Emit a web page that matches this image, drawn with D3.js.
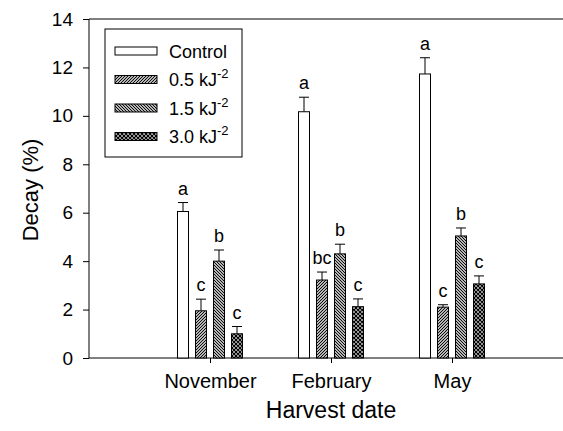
<!DOCTYPE html>
<html>
  <head>
    <meta charset="utf-8" />
    <script src="https://cdn.jsdelivr.net/npm/d3@7/dist/d3.min.js"></script>
    <style>
      body { margin: 0; background: #fff; }
      text { font-family: "Liberation Sans", Arial, sans-serif; fill: #000; }
    </style>
  </head>
  <body>
    <svg id="mySVG" width="563" height="431"></svg>
    <script>
      // data
      var months = ['November', 'February', 'May'];
      var treatments = ['Control', '0.5', '1.5', '3.0'];
      var decay = [
        [6.05, 1.95, 4.0, 1.0],
        [10.17, 3.22, 4.3, 2.12],
        [11.73, 2.1, 5.04, 3.06]
      ];
      var errs = [
        [0.37, 0.48, 0.46, 0.3],
        [0.6, 0.33, 0.4, 0.32],
        [0.67, 0.1, 0.33, 0.33]
      ];
      var letters = [
        ['a', 'c', 'b', 'c'],
        ['a', 'bc', 'b', 'c'],
        ['a', 'c', 'b', 'c']
      ];
      var yTicks = [0, 2, 4, 6, 8, 10, 12, 14];

      var svg = d3.select('svg');
      var font = '"Liberation Sans", Arial, sans-serif';

      var sx = d3.scaleLinear().domain([0, 4]).range([89, 573]);
      var sy = d3.scaleLinear().domain([0, 14]).range([358, 19]);
      var sub = d3.scaleBand().domain(treatments).range([-32.5, 32.5]).paddingInner(7 / 18);

      // hatch patterns
      var defs = svg.append('defs');
      var p1 = defs.append('pattern').attr('id', 'h05').attr('patternUnits', 'userSpaceOnUse')
        .attr('width', 3).attr('height', 3);
      p1.append('rect').attr('width', 3).attr('height', 3).attr('fill', '#fff');
      p1.append('path').attr('d', 'M-1,1 l2,-2 M0,3 l3,-3 M2,4 l2,-2')
        .attr('stroke', '#000').attr('stroke-width', 1.1);

      var p2 = defs.append('pattern').attr('id', 'h15').attr('patternUnits', 'userSpaceOnUse')
        .attr('width', 3).attr('height', 3);
      p2.append('rect').attr('width', 3).attr('height', 3).attr('fill', '#fff');
      p2.append('path').attr('d', 'M-1,-1 l5,5 M-1,2 l2,2 M2,-1 l2,2')
        .attr('stroke', '#000').attr('stroke-width', 1.1);

      var p3 = defs.append('pattern').attr('id', 'h30').attr('patternUnits', 'userSpaceOnUse')
        .attr('width', 4).attr('height', 4);
      p3.append('rect').attr('width', 4).attr('height', 4).attr('fill', '#fff');
      p3.append('path').attr('d', 'M0,0 l4,4 M4,0 l-4,4 M-1,3 l2,2 M3,-1 l2,2 M-1,1 l2,-2 M3,5 l2,-2')
        .attr('stroke', '#000').attr('stroke-width', 1.3);

      var fills = ['#fff', 'url(#h05)', 'url(#h15)', 'url(#h30)'];

      // axes
      var yaxis = d3.axisLeft(sy).tickValues(yTicks).tickSize(6).tickPadding(10);
      var gy = svg.append('g').attr('transform', 'translate(89,0)').call(yaxis);
      gy.select('.domain').attr('d', 'M0,19V358');
      gy.selectAll('text').style('font-size', '19px').style('font-family', font);

      var xaxis = d3.axisBottom(sx).tickValues([1, 2, 3])
        .tickFormat(function(d) { return months[d - 1]; })
        .tickSize(5).tickPadding(11);
      var gx = svg.append('g').attr('transform', 'translate(0,358)').call(xaxis);
      gx.select('.domain').attr('d', 'M89,0H563');
      gx.selectAll('text').style('font-size', '20px').style('font-family', font);

      svg.append('line').attr('x1', 89).attr('x2', 563).attr('y1', sy(14)).attr('y2', sy(14))
        .attr('stroke', '#000');

      // bars
      months.forEach(function(m, i) {
        var cx = sx(i + 1);
        treatments.forEach(function(t, j) {
          var x0 = cx + sub(t);
          var mid = x0 + sub.bandwidth() / 2;
          var v = decay[i][j];
          var top = sy(v + errs[i][j]);
          svg.append('line').attr('x1', mid).attr('x2', mid)
            .attr('y1', sy(v)).attr('y2', top).attr('stroke', '#000');
          svg.append('line').attr('x1', mid - 5).attr('x2', mid + 5)
            .attr('y1', top).attr('y2', top).attr('stroke', '#000');
          svg.append('rect').attr('x', x0).attr('y', sy(v))
            .attr('width', sub.bandwidth()).attr('height', sy(0) - sy(v))
            .attr('fill', fills[j]).attr('stroke', '#000').attr('stroke-width', 1);
          svg.append('text').attr('x', mid).attr('y', top - 8)
            .attr('text-anchor', 'middle').style('font-size', '18px').text(letters[i][j]);
        });
      });

      // legend
      var lg = svg.append('g');
      lg.append('rect').attr('x', 105).attr('y', 29).attr('width', 137).attr('height', 128)
        .attr('fill', '#fff').attr('stroke', '#000');
      treatments.forEach(function(t, j) {
        var yy = 51 + j * 28.5;
        lg.append('rect').attr('x', 115).attr('y', yy - 4).attr('width', 42).attr('height', 8)
          .attr('fill', fills[j]).attr('stroke', '#000');
        var tx = lg.append('text').attr('x', 169).attr('y', yy + 6.5).style('font-size', '18px');
        if (j == 0) {
          tx.text(t);
        } else {
          tx.append('tspan').text(t + ' kJ');
          tx.append('tspan').attr('dy', -8).style('font-size', '13px').text('-2');
        }
      });

      // axis titles
      svg.append('text').attr('transform', 'translate(38,190) rotate(-90)')
        .attr('text-anchor', 'middle').style('font-size', '22px').text('Decay (%)');
      svg.append('text').attr('x', 331).attr('y', 418)
        .attr('text-anchor', 'middle').style('font-size', '23px').text('Harvest date');
    </script>
  </body>
</html>
